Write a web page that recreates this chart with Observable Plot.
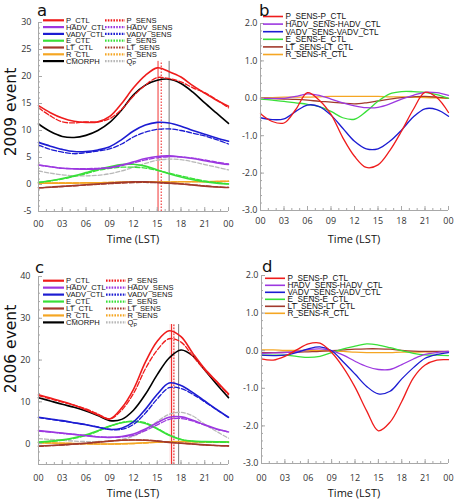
<!DOCTYPE html>
<html><head><meta charset="utf-8">
<script src="https://cdn.jsdelivr.net/npm/d3@7"></script>
<script src="https://cdn.jsdelivr.net/npm/@observablehq/plot@0.6"></script>
<style>
body{margin:0;background:#fff;}
#wrap{position:relative;width:454px;height:500px;overflow:hidden;}
#wrap svg{position:absolute;overflow:visible;background:transparent;}
</style></head><body><div id="wrap"></div>
<script>
// ---------- data ----------
const hours = [0,1.5,3,4.5,6,7.5,9,10.5,12,13.5,15,16.5,18,19.5,21,22.5,24];
const xMajor = [0,3,6,9,12,15,18,21,24];
const xTickLabels = ["00","03","06","09","12","15","18","21","00"];

// Panel a: 2009 event
const a_P_CTL     = [14.6,13.3,12.3,11.7,11.5,11.6,12.6,15.0,17.9,20.2,21.6,20.9,19.9,18.3,16.9,15.6,14.5];
const a_P_SENS    = [14.2,12.7,11.6,11.4,11.6,11.6,12.2,13.9,16.4,18.4,19.8,19.6,19.0,17.9,17.0,15.7,14.2];
const a_CMORPH    = [11.2,9.8,8.9,8.7,9.1,10.0,11.5,13.8,16.6,18.4,19.3,19.5,18.7,17.1,15.1,13.2,11.3];
const a_VADV_CTL  = [7.8,7.1,6.5,6.1,6.1,6.4,7.0,8.3,9.9,11.0,11.5,11.4,10.8,10.0,9.3,8.6,8.0];
const a_VADV_SENS = [7.3,6.5,6.0,5.7,5.9,6.2,6.6,7.5,8.8,9.7,10.2,10.3,10.0,9.5,9.0,8.3,7.5];
const a_HADV_CTL  = [3.6,3.3,3.0,2.9,2.85,2.9,3.1,3.6,4.2,4.8,5.2,5.3,5.1,4.8,4.4,4.0,3.7];
const a_HADV_SENS = [3.6,3.3,3.0,2.95,2.95,3.0,3.1,3.5,4.0,4.55,4.95,5.15,5.1,4.9,4.55,4.15,3.8];
const a_E_CTL     = [0.4,0.7,1.1,1.6,2.2,2.8,3.3,3.7,3.75,3.4,2.7,2.0,1.4,0.9,0.5,0.25,0.1];
const a_E_SENS    = [0.4,0.65,1.0,1.5,2.0,2.6,3.0,3.2,3.2,3.05,2.6,2.1,1.6,1.1,0.65,0.35,0.1];
const a_LT_CTL    = [-0.6,-0.5,-0.35,-0.2,-0.05,0.1,0.25,0.4,0.5,0.5,0.4,0.25,0.1,-0.1,-0.3,-0.45,-0.55];
const a_LT_SENS   = [-0.6,-0.51,-0.37,-0.23,-0.1,0.02,0.15,0.27,0.35,0.38,0.33,0.23,0.12,-0.06,-0.25,-0.42,-0.55];
const a_R_CTL     = [0.25,0.25,0.25,0.25,0.3,0.3,0.35,0.4,0.45,0.45,0.45,0.45,0.5,0.5,0.5,0.55,0.6];
const a_R_SENS    = [0.27,0.27,0.28,0.28,0.33,0.34,0.4,0.45,0.5,0.5,0.5,0.49,0.54,0.53,0.52,0.56,0.6];
const a_Qp        = [2.5,2.1,1.8,1.6,1.6,1.7,2.0,2.5,3.2,3.9,4.5,4.7,4.6,4.2,3.7,3.2,2.7];
const a_peakHours = [15.1, 15.5, 16.5];   // P_CTL, P_SENS, CMORPH
const a_peakTop = 22.8;

// Panel b: 2009 SENS - CTL
const b_P    = [-0.41,-0.62,-0.66,-0.3,0.15,-0.05,-0.43,-1.05,-1.55,-1.85,-1.78,-1.4,-0.88,-0.3,0.16,0.02,-0.38];
const b_HADV = [0.0,0.0,0.0,0.05,0.12,0.08,-0.02,-0.12,-0.2,-0.25,-0.24,-0.15,-0.02,0.08,0.16,0.15,0.08];
const b_VADV = [-0.52,-0.57,-0.55,-0.35,-0.18,-0.22,-0.45,-0.8,-1.15,-1.35,-1.35,-1.15,-0.85,-0.5,-0.28,-0.3,-0.48];
const b_E    = [-0.02,-0.05,-0.08,-0.12,-0.16,-0.22,-0.35,-0.52,-0.56,-0.35,-0.08,0.12,0.18,0.18,0.16,0.1,0.0];
const b_LT   = [0.0,-0.01,-0.02,-0.03,-0.05,-0.08,-0.1,-0.13,-0.15,-0.12,-0.07,-0.02,0.02,0.04,0.05,0.03,0.0];
const b_R    = [0.02,0.02,0.03,0.03,0.03,0.04,0.05,0.05,0.05,0.05,0.05,0.04,0.04,0.03,0.02,0.01,0.0];

// Panel c: 2006 event
const c_P_CTL     = [11.7,10.9,10.1,9.2,8.1,6.9,5.9,8.5,13.0,19.5,24.5,27.0,25.6,21.6,17.9,14.9,11.9];
const c_P_SENS    = [11.5,10.7,9.95,9.2,8.3,7.1,5.9,8.0,12.0,17.9,22.4,25.1,24.3,20.9,17.6,14.7,11.7];
const c_CMORPH    = [11.0,10.2,9.4,8.7,7.8,6.7,5.5,5.8,8.0,11.8,16.5,20.5,22.4,21.0,17.6,14.2,11.0];
const c_VADV_CTL  = [6.3,5.9,5.5,5.0,4.5,3.9,3.4,3.7,5.2,8.2,11.8,14.5,13.9,12.2,10.2,8.2,6.3];
const c_VADV_SENS = [6.2,5.8,5.4,4.95,4.55,4.0,3.4,3.4,4.6,7.3,10.7,13.4,13.2,11.8,10.0,8.1,6.25];
const c_HADV_CTL  = [3.1,2.8,2.5,2.2,1.9,1.6,1.5,1.7,2.3,3.5,5.0,6.3,6.4,5.6,4.5,3.5,2.8];
const c_HADV_SENS = [3.0,2.75,2.45,2.2,1.95,1.65,1.5,1.6,2.0,3.1,4.5,5.8,6.0,5.4,4.4,3.45,2.8];
const c_E_CTL     = [0.4,0.6,0.9,1.4,2.1,3.1,4.2,5.0,5.3,4.8,3.5,2.0,1.0,0.6,0.5,0.45,0.4];
const c_E_SENS    = [0.3,0.5,0.8,1.25,1.9,2.95,4.15,5.05,5.4,5.0,3.65,2.1,1.0,0.55,0.4,0.33,0.27];
const c_LT_CTL    = [-0.6,-0.45,-0.3,-0.1,0.1,0.35,0.6,0.8,0.85,0.8,0.6,0.3,0.1,-0.1,-0.3,-0.45,-0.55];
const c_LT_SENS   = [-0.65,-0.5,-0.34,-0.14,0.07,0.33,0.6,0.82,0.89,0.85,0.65,0.34,0.11,-0.11,-0.32,-0.47,-0.57];
const c_R_CTL     = [0.2,0.15,0.1,0.0,-0.05,-0.1,-0.1,-0.05,0.05,0.2,0.35,0.45,0.5,0.45,0.4,0.4,0.4];
const c_R_SENS    = [0.22,0.17,0.11,0.01,-0.04,-0.1,-0.11,-0.07,0.01,0.15,0.3,0.4,0.46,0.41,0.37,0.37,0.37];
const c_Qp        = [1.2,1.0,0.8,0.6,0.5,0.5,0.6,1.0,1.8,3.3,5.3,7.0,7.5,6.6,4.6,2.9,1.3];
const c_peakHours = [16.8, 17.1, 17.7];
const c_peakTop = 28.5;
const c_peakBand = [16.6, 17.3];

// Panel d: 2006 SENS - CTL
const d_P    = [-0.22,-0.25,-0.15,0.02,0.18,0.2,-0.05,-0.45,-0.97,-1.6,-2.13,-1.9,-1.35,-0.72,-0.38,-0.25,-0.24];
const d_HADV = [-0.07,-0.06,-0.05,-0.02,0.03,0.05,0.0,-0.12,-0.28,-0.42,-0.5,-0.5,-0.37,-0.22,-0.1,-0.05,-0.02];
const d_VADV = [-0.12,-0.13,-0.12,-0.05,0.05,0.1,0.0,-0.3,-0.62,-0.95,-1.15,-1.08,-0.75,-0.45,-0.2,-0.1,-0.05];
const d_E    = [-0.12,-0.12,-0.12,-0.15,-0.18,-0.15,-0.05,0.05,0.12,0.18,0.15,0.08,0.0,-0.07,-0.11,-0.12,-0.13];
const d_LT   = [-0.05,-0.05,-0.04,-0.04,-0.03,-0.02,0.0,0.02,0.04,0.05,0.05,0.04,0.01,-0.01,-0.02,-0.02,-0.02];
const d_R    = [0.02,0.02,0.01,0.01,0.01,0.0,-0.01,-0.02,-0.04,-0.05,-0.05,-0.05,-0.04,-0.04,-0.03,-0.03,-0.03];

// ---------- styles ----------
const C = {P:"#ef1c1c", HADV:"#9c38e0", VADV:"#1c1cd2", E:"#38e038", LT:"#a23a2c", R:"#f5a623", CMORPH:"#000000", Qp:"#b8b8b8"};
const FONT = "'Open Sans','DejaVu Sans',sans-serif";
const TFONT = "'DejaVu Sans','Open Sans',sans-serif";
const AXIS = "#a8a8a8";
const SENS_DASH = "5,2";

const toRows = vals => vals.map((v, i) => ({h: hours[i], v}));
const xMinor = d3.range(0, 25, 1);
const xFmt = d => xTickLabels[xMajor.indexOf(d)];

function leftSeries(P, PS, CM, V, VS, H, HS, E, ES, LT, LTS, R, RS, Q) {
  return [
    {v: Q,   c: C.Qp,   w: 1.3, dash: "4,2"},
    {v: R,   c: C.R,    w: 1.6},
    {v: RS,  c: C.R,    w: 1.3, dash: SENS_DASH},
    {v: LT,  c: C.LT,   w: 1.6},
    {v: LTS, c: C.LT,   w: 1.3, dash: SENS_DASH},
    {v: E,   c: C.E,    w: 1.6},
    {v: ES,  c: C.E,    w: 1.3, dash: SENS_DASH},
    {v: HS,  c: C.HADV, w: 1.3, dash: SENS_DASH},
    {v: H,   c: C.HADV, w: 1.6},
    {v: VS,  c: C.VADV, w: 1.3, dash: SENS_DASH},
    {v: V,   c: C.VADV, w: 1.6},
    {v: CM,  c: C.CMORPH, w: 1.6},
    {v: PS,  c: C.P,    w: 1.3, dash: SENS_DASH},
    {v: P,   c: C.P,    w: 1.6}
  ];
}
function rightSeries(P, H, V, E, LT, R) {
  return [
    {v: R, c: C.R, w: 1.3}, {v: LT, c: C.LT, w: 1.3}, {v: E, c: C.E, w: 1.3},
    {v: H, c: C.HADV, w: 1.3}, {v: V, c: C.VADV, w: 1.3}, {v: P, c: C.P, w: 1.3}
  ];
}

const wrap = document.getElementById("wrap");

function panel(cfg) {
  const {left, top, width, height, mt, mr, mb, ml, yDomain, yMajor, yMinor, yLabels, yFmt, yPad, xPad, series, peaks, peakTop, band} = cfg;
  const fw = width - ml - mr, fh = height - mt - mb;
  const marks = [];
  if (band) marks.push(Plot.rect([{x1: band[0], x2: band[1], y1: yDomain[0], y2: peakTop}], {x1:"x1", x2:"x2", y1:"y1", y2:"y2", fill:"#f8c4c4", fillOpacity:0.45}));
  if (peaks) {
    const st = [{c: C.P, dash: null, w: 0.9}, {c: C.P, dash: "1.5,1.5", w: 1}, {c: "#7a7a7a", dash: null, w: 1}];
    peaks.forEach((p, i) => marks.push(Plot.ruleX([{x: p, y1: yDomain[0], y2: peakTop}], {x:"x", y1:"y1", y2:"y2", stroke: st[i].c, strokeWidth: st[i].w, strokeDasharray: st[i].dash})));
  }
  for (const s of series) marks.push(Plot.line(toRows(s.v), {x:"h", y:"v", stroke: s.c, strokeWidth: s.w, strokeDasharray: s.dash, curve: "catmull-rom"}));
  marks.push(Plot.ruleX([0], {stroke: AXIS}));
  marks.push(Plot.ruleY([yDomain[0]], {stroke: AXIS}));
  marks.push(Plot.tickY(yMajor, {y: d => d, insetRight: fw - 4, stroke: AXIS}));
  marks.push(Plot.tickY(yMinor, {y: d => d, insetRight: fw - 2, stroke: AXIS}));
  marks.push(Plot.tickX(xMajor, {x: d => d, insetTop: fh - 4, stroke: AXIS}));
  marks.push(Plot.tickX(xMinor, {x: d => d, insetTop: fh - 2, stroke: AXIS}));
  marks.push(Plot.axisY({ticks: yLabels, tickSize: 0, tickPadding: yPad, tickFormat: yFmt, label: null, fill: "#333"}));
  marks.push(Plot.axisX({ticks: xMajor, tickSize: 0, tickPadding: xPad, tickFormat: xFmt, label: null, fill: "#333"}));
  const svg = Plot.plot({
    width, height, marginTop: mt, marginRight: mr, marginBottom: mb, marginLeft: ml,
    x: {domain: [0, 24]}, y: {domain: yDomain},
    style: {fontFamily: FONT, fontSize: "9px", color: "#333", background: "transparent"},
    marks
  });
  svg.style.left = left + "px";
  svg.style.top = top + "px";
  wrap.appendChild(svg);
  return d3.select(svg);
}

function addText(sel, x, y, txt, opts = {}) {
  return sel.append("text").attr("x", x).attr("y", y)
    .attr("font-family", opts.family || FONT).attr("font-size", opts.size || 9)
    .attr("text-anchor", opts.anchor || "start")
    .attr("dominant-baseline", opts.baseline || "auto")
    .attr("fill", opts.fill || "#111")
    .attr("transform", opts.transform || null)
    .text(txt);
}

function legend(sel, entries, x0, x1, tx, y0, step, size) {
  entries.forEach((e, i) => {
    const y = y0 + i * step;
    sel.append("line").attr("x1", x0).attr("x2", x1).attr("y1", y).attr("y2", y)
      .attr("stroke", e.c).attr("stroke-width", e.w || 2.2).attr("stroke-dasharray", e.dash || null);
    const t = addText(sel, tx, y + size * 0.36, e.label, {size, family: "'Liberation Sans','DejaVu Sans',sans-serif"});
    if (e.sub) t.append("tspan").attr("font-size", size * 0.7).attr("dy", 1.5).text(e.sub);
  });
}

const leftLegend1 = [
  {label:"P_CTL", c:C.P}, {label:"HADV_CTL", c:C.HADV}, {label:"VADV_CTL", c:C.VADV},
  {label:"E_CTL", c:C.E}, {label:"LT_CTL", c:C.LT}, {label:"R_CTL", c:C.R}, {label:"CMORPH", c:C.CMORPH}
];
const DOT = "1.6,1.2";
const leftLegend2 = [
  {label:"P_SENS", c:C.P, dash:DOT}, {label:"HADV_SENS", c:C.HADV, dash:DOT}, {label:"VADV_SENS", c:C.VADV, dash:DOT},
  {label:"E_SENS", c:C.E, dash:DOT}, {label:"LT_SENS", c:C.LT, dash:DOT}, {label:"R_SENS", c:C.R, dash:DOT},
  {label:"Q", sub:"P", c:C.Qp, dash:DOT}
];
const rightLegend = [
  {label:"P_SENS-P_CTL", c:C.P, w:1.6}, {label:"HADV_SENS-HADV_CTL", c:C.HADV, w:1.6}, {label:"VADV_SENS-VADV_CTL", c:C.VADV, w:1.6},
  {label:"E_SENS-E_CTL", c:C.E, w:1.6}, {label:"LT_SENS-LT_CTL", c:C.LT, w:1.6}, {label:"R_SENS-R_CTL", c:C.R, w:1.6}
];

const intFmt = d => String(d);
const decFmt = d => d.toFixed(1);

// ---- panel a ----
const pa = panel({left:0, top:0, width:230, height:250, mt:22, mr:2, mb:39, ml:38,
  yDomain:[-5,30], yMajor:d3.range(-5,31,5), yMinor:d3.range(-5,31,1), yLabels:d3.range(-5,31,5), yFmt:intFmt, yPad:7, xPad:9,
  series: leftSeries(a_P_CTL,a_P_SENS,a_CMORPH,a_VADV_CTL,a_VADV_SENS,a_HADV_CTL,a_HADV_SENS,a_E_CTL,a_E_SENS,a_LT_CTL,a_LT_SENS,a_R_CTL,a_R_SENS,a_Qp),
  peaks: a_peakHours, peakTop: a_peakTop});
legend(pa, leftLegend1, 43, 64, 66, 20.3, 6.8, 7.6);
legend(pa, leftLegend2, 105, 125, 126.5, 20.3, 6.8, 7.6);
addText(pa, 37, 15.5, "a", {size: 16.5, family: TFONT});
addText(pa, 133, 243, "Time (LST)", {size: 11, anchor: "middle"});
addText(pa, 0, 0, "2009 event", {size: 15.5, anchor: "middle", family: TFONT, transform: "translate(15.5,112) rotate(-90)"});

// ---- panel b ----
const pb = panel({left:230, top:0, width:224, height:250, mt:23, mr:6, mb:40, ml:30,
  yDomain:[-3,2], yMajor:d3.range(-3,2.01,1), yMinor:d3.range(-30,21,2).map(d=>d/10), yLabels:[-3,-2,-1,0,1,2], yFmt:decFmt, yPad:3, xPad:7,
  series: rightSeries(b_P,b_HADV,b_VADV,b_E,b_LT,b_R)});
legend(pb, rightLegend, 33, 53, 55.5, 16.5, 7.6, 8.2);
addText(pb, 29, 15.5, "b", {size: 16.5, family: TFONT});
addText(pb, 124, 243, "Time (LST)", {size: 11, anchor: "middle"});

// ---- panel c ----
const pc = panel({left:0, top:250, width:230, height:250, mt:26, mr:2, mb:36, ml:38,
  yDomain:[-5,40], yMajor:d3.range(0,41,10), yMinor:d3.range(-4,41,2), yLabels:[0,10,20,30,40], yFmt:intFmt, yPad:8, xPad:10,
  series: leftSeries(c_P_CTL,c_P_SENS,c_CMORPH,c_VADV_CTL,c_VADV_SENS,c_HADV_CTL,c_HADV_SENS,c_E_CTL,c_E_SENS,c_LT_CTL,c_LT_SENS,c_R_CTL,c_R_SENS,c_Qp),
  peaks: c_peakHours, peakTop: c_peakTop, band: c_peakBand});
legend(pc, leftLegend1, 43, 64, 66, 30.7, 6.95, 7.6);
legend(pc, leftLegend2, 106, 126, 127.5, 30.7, 6.95, 7.6);
addText(pc, 35, 23, "c", {size: 16.5, family: TFONT});
addText(pc, 133, 247, "Time (LST)", {size: 11, anchor: "middle"});
addText(pc, 0, 0, "2006 event", {size: 15.5, anchor: "middle", family: TFONT, transform: "translate(15.5,99) rotate(-90)"});

// ---- panel d ----
const pd = panel({left:230, top:250, width:224, height:250, mt:25, mr:6, mb:37, ml:31,
  yDomain:[-3,2], yMajor:d3.range(-3,2.01,1), yMinor:d3.range(-30,21,2).map(d=>d/10), yLabels:[-3,-2,-1,0,1,2], yFmt:decFmt, yPad:3, xPad:11,
  series: rightSeries(d_P,d_HADV,d_VADV,d_E,d_LT,d_R)});
legend(pd, rightLegend, 35, 55, 57.5, 28.3, 7.0, 8.2);
addText(pd, 32, 22, "d", {size: 16.5, family: TFONT});
addText(pd, 124, 247, "Time (LST)", {size: 11, anchor: "middle"});
</script>
</body></html>
